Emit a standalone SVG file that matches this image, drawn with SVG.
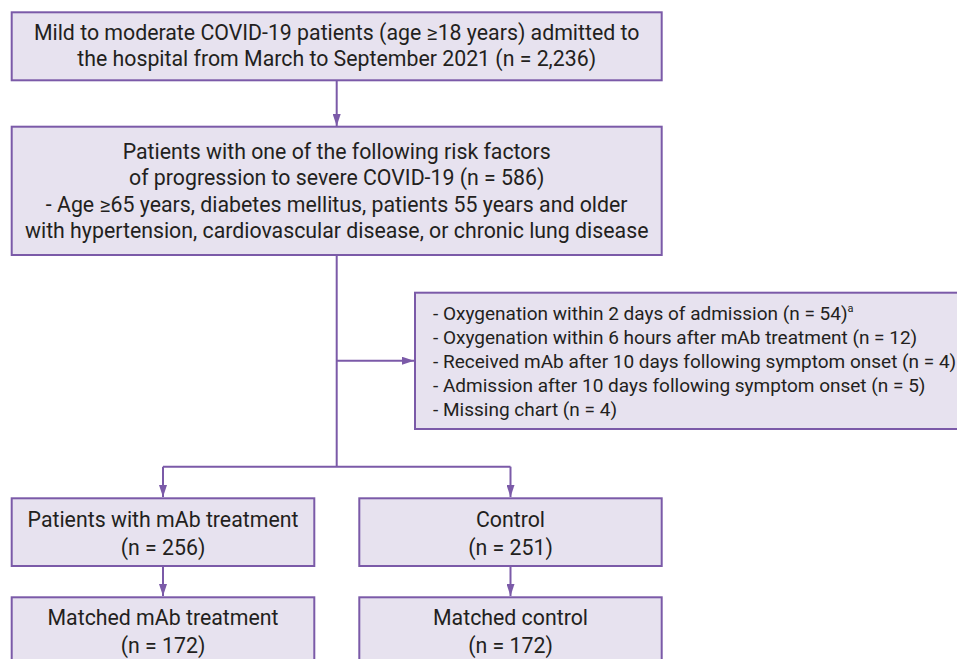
<svg xmlns="http://www.w3.org/2000/svg" width="957" height="659" viewBox="0 0 957 659">
<style>
.box{fill:#e7e2ef;stroke:#7b5aa8;stroke-width:2}
.t{font-family:Roboto,"Liberation Sans",sans-serif;font-size:21.3px;fill:#231f20;text-anchor:middle}
.e{font-family:Roboto,"Liberation Sans",sans-serif;font-size:19px;fill:#231f20}
.c{fill:none;stroke:#7b5aa8;stroke-width:2}
</style>
<defs>
<marker id="ah" viewBox="0 0 12 8" refX="12" refY="4" markerWidth="12" markerHeight="8" markerUnits="userSpaceOnUse" orient="auto">
<path d="M0,0 L12,4 L0,8 Z" fill="#7b5aa8"/>
</marker>
</defs>
<rect width="957" height="659" fill="#fff"/>
<g id="connectors">
<path class="c" d="M336.7,80.3 V126" marker-end="url(#ah)"/>
<path class="c" d="M336.7,255 V466.7"/>
<path class="c" d="M336.7,360.7 H414" marker-end="url(#ah)"/>
<path class="c" d="M163,466.7 H510.5"/>
<path class="c" d="M163,466.7 V497" marker-end="url(#ah)"/>
<path class="c" d="M510.5,466.7 V497" marker-end="url(#ah)"/>
<path class="c" d="M163,566 V596" marker-end="url(#ah)"/>
<path class="c" d="M510.5,566 V596" marker-end="url(#ah)"/>
</g>
<g id="n1">
<rect class="box" x="11.7" y="12.3" width="650" height="68"/>
<text class="t" x="336.7" y="40">Mild to moderate COVID-19 patients (age ≥18 years) admitted to</text>
<text class="t" x="336.7" y="66">the hospital from March to September 2021 (n = 2,236)</text>
</g>
<g id="n2">
<rect class="box" x="11.7" y="126.7" width="650" height="128.3"/>
<text class="t" x="336.7" y="159">Patients with one of the following risk factors</text>
<text class="t" x="336.7" y="185">of progression to severe COVID-19 (n = 586)</text>
<text class="t" x="336.7" y="211.5">- Age ≥65 years, diabetes mellitus, patients 55 years and older</text>
<text class="t" x="336.7" y="238">with hypertension, cardiovascular disease, or chronic lung disease</text>
</g>
<g id="n3">
<rect class="box" x="415" y="292.7" width="550" height="136.3"/>
<text class="e" x="433" y="320">- Oxygenation within 2 days of admission (n = 54)<tspan font-size="11" dy="-8">a</tspan></text>
<text class="e" x="433" y="344">- Oxygenation within 6 hours after mAb treatment (n = 12)</text>
<text class="e" x="433" y="368">- Received mAb after 10 days following symptom onset (n = 4)</text>
<text class="e" x="433" y="392">- Admission after 10 days following symptom onset (n = 5)</text>
<text class="e" x="433" y="416">- Missing chart (n = 4)</text>
</g>
<g id="n4">
<rect class="box" x="11.7" y="498.3" width="302.6" height="67.7"/>
<text class="t" x="163" y="526.5">Patients with mAb treatment</text>
<text class="t" x="163" y="554.5">(n = 256)</text>
</g>
<g id="n5">
<rect class="box" x="359.3" y="498.3" width="302.4" height="67.7"/>
<text class="t" x="510.5" y="526.5">Control</text>
<text class="t" x="510.5" y="554.5">(n = 251)</text>
</g>
<g id="n6">
<rect class="box" x="11.7" y="597.3" width="302.6" height="80"/>
<text class="t" x="163" y="624.5">Matched mAb treatment</text>
<text class="t" x="163" y="652.5">(n = 172)</text>
</g>
<g id="n7">
<rect class="box" x="359.3" y="597.3" width="302.4" height="80"/>
<text class="t" x="510.5" y="624.5">Matched control</text>
<text class="t" x="510.5" y="652.5">(n = 172)</text>
</g>
</svg>
